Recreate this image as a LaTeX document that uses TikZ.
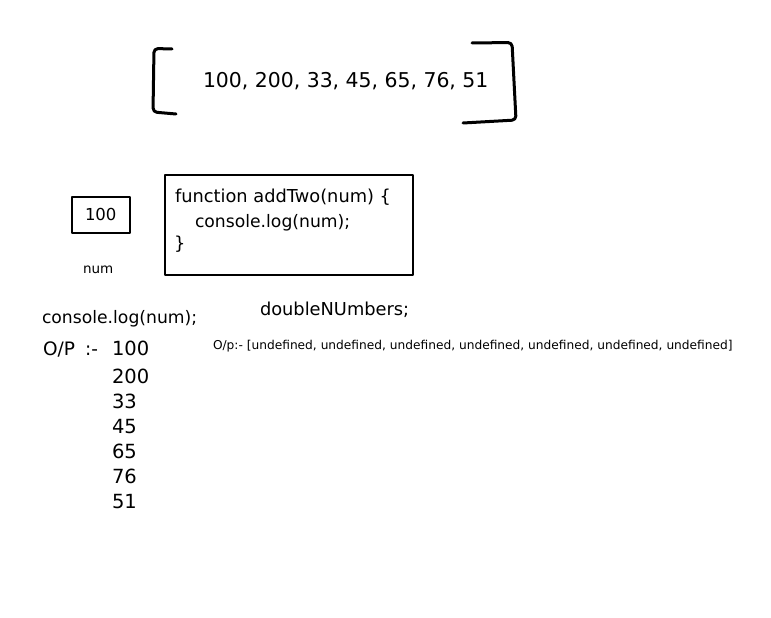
\documentclass[tikz,border=0pt]{standalone}
\usepackage{fontspec}
\setmainfont{DejaVu Sans}
\begin{document}
\begin{tikzpicture}[x=1pt,y=-1pt,
  txt/.style={anchor=base west,inner sep=0pt,outer sep=0pt},
  bracketline/.style={line width=3pt,line cap=round,line join=round,rounded corners=4pt},
  boxline/.style={line width=1.3pt,line join=round}]
\useasboundingbox[fill=white] (0,0) rectangle (771,618);

% array literal between hand-drawn brackets
\draw[bracketline] (172,49) -- (154,48.5) -- (153,112) -- (176,114);
\draw[bracketline] (472,43) -- (512,42.5) -- (516,120) -- (463,123);
\node[txt,font=\fontsize{20.4}{24}\selectfont] (arr) at (203,88) {100, 200, 33, 45, 65, 76, 51};

% current element box
\draw[boxline] (72,197) rectangle (130,233);
\node[txt,font=\fontsize{16.5}{20}\selectfont] (val) at (85,220) {100};
\node[txt,font=\fontsize{13.5}{16}\selectfont] (numlbl) at (83,273) {num};

% callback function box
\draw[boxline] (165,175) rectangle (413,275);
\node[txt,font=\fontsize{17.8}{21}\selectfont] (fn1) at (175,202) {function addTwo(num) \{};
\node[txt,font=\fontsize{17.2}{21}\selectfont] (fn2) at (195,227) {console.log(num);};
\node[txt,font=\fontsize{17.8}{21}\selectfont] (fn3) at (174,249) {\}};

% console output
\node[txt,font=\fontsize{17.2}{21}\selectfont] (log) at (42,323) {console.log(num);};
\node[txt,font=\fontsize{17.8}{21}\selectfont] (dbl) at (260,315) {doubleNUmbers;};
\node[txt,font=\fontsize{18.5}{22}\selectfont] (op) at (43,355) {O/P\hspace{0.55em}:-};
\foreach \v/\yy [count=\i] in {100/355,200/383,33/408,45/433,65/458,76/483,51/508}
  \node[txt,font=\fontsize{19.5}{23}\selectfont] (out\i) at (112,\yy) {\v};
\node[txt,font=\fontsize{12.2}{15}\selectfont] (res) at (213,349)
  {O/p:- [undefined, undefined, undefined, undefined, undefined, undefined, undefined]};
\end{tikzpicture}
\end{document}
